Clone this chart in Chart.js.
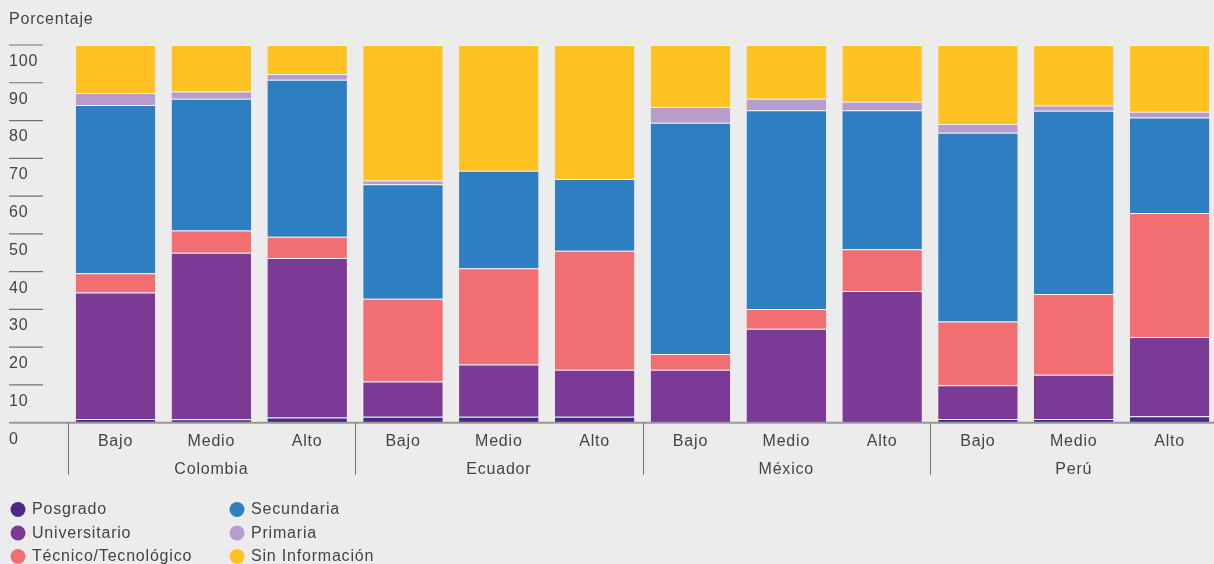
<!DOCTYPE html>
<html lang="es">
<head>
<meta charset="utf-8">
<title>Porcentaje por nivel educativo</title>
<script src="https://cdn.jsdelivr.net/npm/chart.js@4"></script>
<style>
    html, body { margin: 0; padding: 0; background: #ececec; overflow: hidden; }
    #wrap { position: relative; width: 1214px; height: 564px; overflow: hidden; }
    canvas { display: block; }
</style>
</head>
<body>
<div id="wrap"><canvas id="eduChart" width="1218" height="564"></canvas></div>
<script>
const categories = ['Bajo', 'Medio', 'Alto', 'Bajo', 'Medio', 'Alto', 'Bajo', 'Medio', 'Alto', 'Bajo', 'Medio', 'Alto'];
const countries = ['Colombia', 'Ecuador', 'México', 'Perú'];
const yTicks = [0, 10, 20, 30, 40, 50, 60, 70, 80, 90, 100];

const posgrado      = [1.0, 0.9, 1.4, 1.6, 1.6, 1.6, 0, 0, 0, 1.0, 1.0, 1.7];
const universitario = [33.5, 44.1, 42.2, 9.3, 13.8, 12.4, 14.0, 24.9, 34.9, 8.9, 11.7, 21.0];
const tecnico       = [5.1, 5.9, 5.6, 21.9, 25.5, 31.5, 4.2, 5.2, 11.0, 16.9, 21.4, 32.8];
const secundaria    = [44.5, 34.9, 41.6, 30.3, 25.8, 19.0, 61.2, 52.6, 36.8, 50.0, 48.5, 25.3];
const primaria      = [3.2, 1.9, 1.5, 1.0, 0, 0, 4.2, 3.1, 2.3, 2.3, 1.4, 1.5];
const sinInfo       = [12.7, 12.3, 7.7, 35.9, 33.3, 35.5, 16.4, 14.2, 15.0, 20.9, 16.0, 17.7];

const FONT = '"Liberation Sans", Arial, sans-serif';
const TEXT = '#444444';

const series = [
    { label: 'Posgrado', data: posgrado, color: '#4a2a87' },
    { label: 'Universitario', data: universitario, color: '#7a3a96' },
    { label: 'Técnico/Tecnológico', data: tecnico, color: '#f16e73' },
    { label: 'Secundaria', data: secundaria, color: '#2e7fc2' },
    { label: 'Primaria', data: primaria, color: '#b89ccb' },
    { label: 'Sin Información', data: sinInfo, color: '#ffc222' }
];

// axes, labels and legend drawn from the chart's own scales
const decorPlugin = {
    id: 'decor',
    afterDraw(chart) {
        const c = chart.ctx;
        const x = chart.scales.x;
        const y = chart.scales.y;
        c.save();

        c.fillStyle = TEXT;
        c.font = '16px ' + FONT;
        c.letterSpacing = '0.8px';
        c.textBaseline = 'middle';
        c.textAlign = 'left';
        c.fillText('Porcentaje', 9, 20);

        // y ticks: short line with label underneath
        c.strokeStyle = '#707070';
        c.lineWidth = 1.2;
        yTicks.forEach(function (v) {
            const py = y.getPixelForValue(v);
            if (v > 0) {
                c.beginPath();
                c.moveTo(9, py);
                c.lineTo(43, py);
                c.stroke();
            }
            c.fillText(String(v), 9, py + 16.5);
        });

        // baseline
        const base = y.getPixelForValue(0);
        c.strokeStyle = '#999999';
        c.lineWidth = 2;
        c.beginPath();
        c.moveTo(9, base);
        c.lineTo(chart.width, base);
        c.stroke();

        // category labels
        c.textAlign = 'center';
        categories.forEach(function (lab, i) {
            c.fillText(lab, x.getPixelForValue(i), base + 18.5);
        });

        // country groups
        const step = x.getPixelForValue(1) - x.getPixelForValue(0);
        c.strokeStyle = '#777777';
        c.lineWidth = 1;
        countries.forEach(function (name, g) {
            const left = x.getPixelForValue(g * 3) - step / 2;
            c.beginPath();
            c.moveTo(Math.round(left) + 0.5, base);
            c.lineTo(Math.round(left) + 0.5, base + 52);
            c.stroke();
            c.fillText(name, x.getPixelForValue(g * 3 + 1), base + 47);
        });

        // legend in two columns
        c.textAlign = 'left';
        series.forEach(function (s, i) {
            const col = Math.floor(i / 3);
            const row = i % 3;
            const cx = col === 0 ? 18 : 237;
            const cy = 509.5 + row * 23.5;
            c.fillStyle = s.color;
            c.beginPath();
            c.arc(cx, cy, 7.5, 0, Math.PI * 2);
            c.fill();
            c.fillStyle = TEXT;
            c.fillText(s.label, cx + 14, cy + 0.5);
        });

        c.restore();
    }
};

const chart = new Chart(document.getElementById('eduChart').getContext('2d'), {
    type: 'bar',
    data: {
        labels: categories,
        datasets: series.map(function (s) {
            return {
                label: s.label,
                data: s.data,
                backgroundColor: s.color,
                borderColor: 'rgba(255,255,255,0.3)',
                borderWidth: { top: 1 },
                borderSkipped: 'start',
                categoryPercentage: 1,
                barPercentage: 0.83
            };
        })
    },
    options: {
        responsive: false,
        animation: false,
        layout: { padding: { left: 67.6, right: 0.5, top: 45, bottom: 141.3 } },
        plugins: {
            legend: { display: false },
            tooltip: { enabled: false }
        },
        scales: {
            x: { stacked: true, display: false },
            y: { stacked: true, display: false, min: 0, max: 100 }
        }
    },
    plugins: [decorPlugin]
});
</script>
</body>
</html>
